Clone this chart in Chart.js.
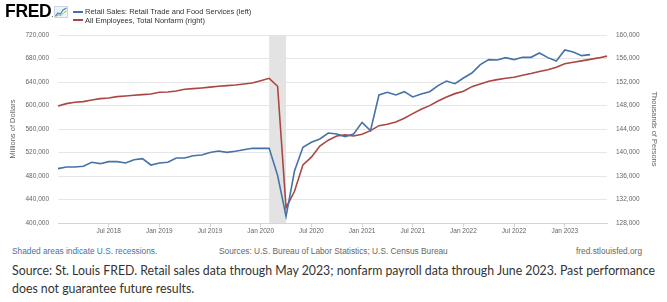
<!DOCTYPE html>
<html>
<head>
<meta charset="utf-8">
<script src="https://cdn.jsdelivr.net/npm/chart.js@4"></script>
<style>
  body { margin:0; background:#fff; width:667px; height:302px; overflow:hidden; position:relative;
         font-family:"Liberation Sans", Arial, sans-serif; }
  #wrap { position:absolute; left:0; top:0; width:667px; height:245px; }
  .abs { position:absolute; white-space:nowrap; }
  #logo { left:5px; top:1px; font-weight:bold; font-size:17.5px; color:#000; letter-spacing:-0.3px; }
  .sw { position:absolute; width:10px; height:2px; left:73px; }
  .lg { font-size:7.5px; color:#333; left:85px; }
  .foot { font-size:8.3px; color:#666; top:246px; }
  #cap { left:12px; top:261px; font-family:Lato, "Noto Sans", sans-serif; font-size:14px; line-height:18px;
         color:#333; transform-origin:0 0; }
</style>
</head>
<body>
<div id="wrap"><canvas id="myChart" width="667" height="245"></canvas></div>

<div id="logo" class="abs">FRED<span style="font-size:6px">.</span></div>
<svg class="abs" style="left:54px;top:6px" width="14" height="12" viewBox="0 0 14 12">
  <rect x="0.5" y="0.5" width="13" height="11" fill="#eef3f8" stroke="#c9d6e3"/>
  <polyline points="1.5,10 4,7 6.5,8 9,4 12.5,2" fill="none" stroke="#4a86c5" stroke-width="1.2"/>
  <polyline points="1.5,10.5 4.5,9 7,9.5 10,6.5 12.5,5" fill="none" stroke="#7bbf6a" stroke-width="0.9"/>
</svg>
<div class="sw" style="top:11px;background:#4572a7"></div>
<div class="sw" style="top:19px;background:#aa4643"></div>
<div class="abs lg" style="top:7px">Retail Sales: Retail Trade and Food Services (left)</div>
<div class="abs lg" style="top:15.5px">All Employees, Total Nonfarm (right)</div>

<div class="abs foot" style="left:12px;color:#4572a7">Shaded areas indicate U.S. recessions.</div>
<div class="abs foot" style="left:219px">Sources: U.S. Bureau of Labor Statistics; U.S. Census Bureau</div>
<div class="abs foot" style="right:25px">fred.stlouisfed.org</div>

<div id="cap" class="abs"><span id="l1">Source: St. Louis FRED. Retail sales data through May 2023; nonfarm payroll data through June 2023. Past performance</span><br>does not guarantee future results.</div>

<script>
// months Jan 2018 .. Jun 2023
const monthNames = ['Jan','Feb','Mar','Apr','May','Jun','Jul','Aug','Sep','Oct','Nov','Dec'];
const months = [];
for (let y = 2018; y <= 2023; y++) {
  for (let m = 0; m < 12; m++) {
    if (y === 2023 && m > 5) break;
    months.push(monthNames[m] + ' ' + y);
  }
}

// x axis labels that are shown
const tickLabels = ['Jul 2018','Jan 2019','Jul 2019','Jan 2020','Jul 2020',
                    'Jan 2021','Jul 2021','Jan 2022','Jul 2022','Jan 2023'];

// recession (shaded)
const recession = ['Feb 2020', 'Apr 2020'];

// Retail Sales, millions of dollars (left axis), Jan 2018 - Apr 2023
const retailSales = [
  492500, 495300, 495300, 496500, 503300, 501000, 504400, 504400, 502100, 507800, 509500, 498700,
  502100, 503300, 510600, 510600, 514600, 515700, 520000, 522600, 520300, 522000, 524800, 527100,
  527100, 527100, 481100, 411300, 488500, 528800, 537300, 543000, 553200, 551500, 547000, 551500,
  571300, 557200, 617900, 622400, 617900, 623500, 614500, 619600, 623500, 633800, 641700, 637200,
  646800, 655300, 669500, 678000, 677400, 681400, 678100, 682000, 682000, 689400, 681500, 675700,
  694500, 691100, 684900, 686600
];

// All Employees, Total Nonfarm, thousands of persons (right axis), Jan 2018 - Jun 2023
const nonfarm = [
  147920, 148320, 148540, 148660, 148940, 149170, 149280, 149510, 149620, 149740, 149850, 149960,
  150250, 150300, 150470, 150760, 150870, 150980, 151120, 151270, 151380, 151490, 151670, 151840,
  152230, 152630, 151270, 130600, 133400, 137900, 139200, 141100, 142100, 142800, 143000, 142800,
  143100, 143720, 144570, 144800, 145200, 145820, 146620, 147350, 147980, 148770, 149450, 150020,
  150420, 151210, 151660, 152120, 152400, 152650, 152800, 153150, 153450, 153800, 154100, 154500,
  155100, 155350, 155600, 155850, 156100, 156400
];

const leftTicks = [400000, 720000, 40000];
const rightTicks = [128000, 160000, 4000];

const fontFam = '"Liberation Sans", Arial, sans-serif';

const recessionShade = {
  id: 'recessionShade',
  beforeDatasetsDraw(chart) {
    const {ctx, chartArea, scales} = chart;
    const x1 = scales.x.getPixelForValue(months.indexOf(recession[0]));
    const x2 = scales.x.getPixelForValue(months.indexOf(recession[1]));
    ctx.save();
    ctx.fillStyle = '#e3e3e3';
    ctx.fillRect(x1, chartArea.top, x2 - x1, chartArea.bottom - chartArea.top);
    ctx.restore();
  }
};

let myChart = document.getElementById('myChart').getContext('2d');

let lineChart = new Chart(myChart, {
  type: 'line',
  data: {
    labels: months,
    datasets: [{
      label: 'Retail Sales: Retail Trade and Food Services (left)',
      data: retailSales,
      yAxisID: 'y',
      borderColor: '#4572a7',
      borderWidth: 1.6,
      pointRadius: 0,
      tension: 0
    }, {
      label: 'All Employees, Total Nonfarm (right)',
      data: nonfarm,
      yAxisID: 'y1',
      borderColor: '#aa4643',
      borderWidth: 1.6,
      pointRadius: 0,
      tension: 0
    }]
  },
  options: {
    responsive: false,
    animation: false,
    layout: { padding: { top: 35, left: 0, right: 0, bottom: 0 } },
    plugins: { legend: { display: false }, tooltip: { enabled: false } },
    scales: {
      x: {
        type: 'category',
        offset: false,
        grid: { drawOnChartArea: false, drawTicks: true, tickLength: 4, color: '#ccd6eb' },
        border: { color: '#ccd6eb' },
        ticks: {
          autoSkip: false, maxRotation: 0, padding: 0, color: '#666',
          font: { size: 6.5, family: fontFam },
          callback: function (v) {
            const lbl = this.getLabelForValue(v);
            return tickLabels.includes(lbl) ? lbl : null;
          }
        },
        afterFit(s) { s.height = 22; }
      },
      y: {
        position: 'left',
        min: leftTicks[0], max: leftTicks[1],
        grid: { color: '#e6e6e6', drawTicks: false },
        border: { display: false },
        ticks: {
          stepSize: leftTicks[2], padding: 9, color: '#666',
          font: { size: 6.5, family: fontFam },
          callback: v => v.toLocaleString('en-US')
        },
        title: { display: true, text: 'Millions of Dollars', color: '#666',
                 font: { size: 7.5, family: fontFam }, padding: { top: 8, bottom: 0 } },
        afterFit(s) { s.width = 58; }
      },
      y1: {
        position: 'right',
        min: rightTicks[0], max: rightTicks[1],
        grid: { drawOnChartArea: false, drawTicks: false },
        border: { display: false },
        ticks: {
          stepSize: rightTicks[2], padding: 9, color: '#666',
          font: { size: 6.5, family: fontFam },
          callback: v => v.toLocaleString('en-US')
        },
        title: { display: true, text: 'Thousands of Persons', color: '#666',
                 font: { size: 7.5, family: fontFam }, padding: { top: 8, bottom: 0 } },
        afterFit(s) { s.width = 60; }
      }
    }
  },
  plugins: [recessionShade]
});

// squeeze caption to the reference width
function fitCaption() {
  const w = document.getElementById('l1').getBoundingClientRect().width;
  document.getElementById('cap').style.transform = 'scaleX(' + (643 / w) + ')';
}
fitCaption();
</script>
</body>
</html>
